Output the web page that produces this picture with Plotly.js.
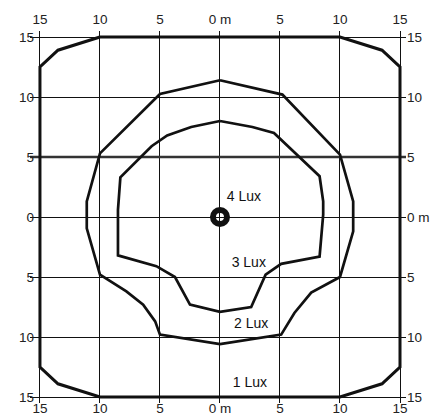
<!DOCTYPE html>
<html>
<head>
<meta charset="utf-8">
<script src="https://cdn.plot.ly/plotly-3.0.1.min.js"></script>
<style>html,body{margin:0;padding:0;background:#fff;}#chart{width:442px;height:414px;}</style>
</head>
<body>
<div id="chart"></div>
<script>
// Tick positions and labels (metres)
var tickVals = [-15, -10, -5, 0, 5, 10, 15];
var tickTextX = ["15", "10", "5", "0 m", "5", "10", "15"];
var tickTextYLeft = ["15", "10", "5", "0", "5", "10", "15"];
var tickTextYRight = ["15", "10", "5", "0 m", "5", "10", "15"];

// 1 Lux isoline
var lux1X = [-10, 10, 13.5, 15, 15, 13.5, 10, -10, -13.5, -15, -15, -13.5, -10];
var lux1Y = [15, 15, 13.9, 12.5, -12.5, -13.9, -15, -15, -13.9, -12.5, 12.5, 13.9, 15];

// 2 Lux isoline
var lux2X = [0, 5.2, 10, 11.1, 11.1, 10, 7.6, 6.2, 5.1, 0, -5, -5.4, -6.4, -7.8, -10, -11.1, -11.1, -10, -5, 0];
var lux2Y = [11.4, 10.2, 5.2, 1.3, -1.2, -5, -6.3, -8.0, -9.8, -10.6, -9.8, -8.7, -7.3, -6.2, -4.8, -0.95, 1.3, 5.3, 10.25, 11.4];

// 3 Lux isoline
var lux3X = [0, 2.7, 4.5, 8.3, 8.6, 8.6, 8.3, 5.1, 3.8, 2.6, 0, -2.5, -3.75, -5.3, -8.5, -8.5, -8.3, -5.7, -4.4, -2.4, 0];
var lux3Y = [8.0, 7.5, 7.0, 3.4, 1.3, 0.2, -3.3, -3.9, -4.8, -7.5, -7.9, -7.3, -5.0, -4.1, -3.2, 0.6, 3.3, 5.9, 6.8, 7.5, 8.0];

// Luminaire position (4 Lux centre)
var lampX = [0];
var lampY = [0];

// Emphasised grid row
var boldRowX = [-16, 16];
var boldRowY = [5, 5];

// Labels
var labelText = ["4 Lux", "3 Lux", "2 Lux", "1 Lux"];
var labelX = [2.0, 2.4, 2.6, 2.5];
var labelY = [1.6, -3.9, -8.95, -13.9];

var lineStyle = {color: "#111", width: 2.7};
var traces = [
  {x: boldRowX, y: boldRowY, mode: "lines", line: {color: "#333", width: 2.3}, hoverinfo: "skip"},
  {x: lux1X, y: lux1Y, mode: "lines", line: {color: "#111", width: 3}},
  {x: lux2X, y: lux2Y, mode: "lines", line: lineStyle},
  {x: lux3X, y: lux3Y, mode: "lines", line: lineStyle},
  {x: lampX, y: lampY, mode: "markers", marker: {symbol: "circle-open", size: 14, color: "#111", line: {width: 6, color: "#111"}}},
  {x: labelX, y: labelY, mode: "text", text: labelText, textposition: "middle center",
   textfont: {family: "Liberation Sans, Arial, sans-serif", size: 14, color: "#111"}},
  {x: [0], y: [0], xaxis: "x2", yaxis: "y2", mode: "markers", marker: {opacity: 0}, hoverinfo: "skip"}
];

var font = {family: "Liberation Sans, Arial, sans-serif", size: 13.5, color: "#222"};
var axBase = {
  tickmode: "array", tickvals: tickVals, ticks: "",
  showgrid: true, gridcolor: "#111", gridwidth: 1, zeroline: false, showline: false,
  tickfont: font, fixedrange: true
};
var xRange = [-15.83, 15.5];
var yRange = [-15.5, 15.5];

var layout = {
  width: 442, height: 414,
  margin: {l: 30, r: 36, t: 31, b: 11},
  paper_bgcolor: "#fff", plot_bgcolor: "#fff",
  showlegend: false,
  xaxis: Object.assign({}, axBase, {range: xRange, ticktext: tickTextX, side: "bottom", ticklabelstandoff: -5}),
  xaxis2: Object.assign({}, axBase, {range: xRange, ticktext: tickTextX, side: "top", overlaying: "x", anchor: "y", matches: "x", showgrid: false, ticklabelstandoff: 3}),
  yaxis: Object.assign({}, axBase, {range: yRange, ticktext: tickTextYLeft, side: "left", ticklabelstandoff: -5}),
  yaxis2: Object.assign({}, axBase, {range: yRange, ticktext: tickTextYRight, side: "right", overlaying: "y", anchor: "x", matches: "y", showgrid: false, ticklabelstandoff: 0})
};

Plotly.newPlot("chart", traces, layout, {displayModeBar: false, staticPlot: true});
</script>
</body>
</html>
